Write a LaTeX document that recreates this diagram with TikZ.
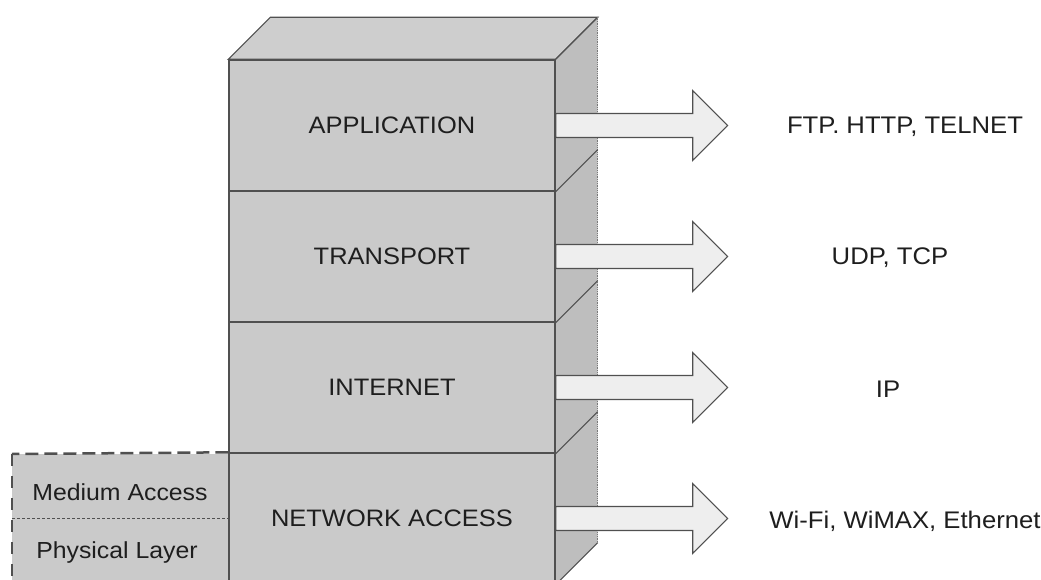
\documentclass[tikz,border=0pt]{standalone}
\usepackage{fontspec}
\setmainfont{Liberation Sans}[FakeStretch=1.07]
\usetikzlibrary{calc}
\definecolor{frontgray}{RGB}{202,202,202}
\definecolor{topgray}{RGB}{206,206,206}
\definecolor{sidegray}{RGB}{190,190,190}
\definecolor{arrowfill}{RGB}{238,238,238}
\definecolor{edgegray}{RGB}{80,80,80}
\definecolor{lightedge}{RGB}{120,120,120}
\definecolor{textgray}{RGB}{30,30,30}
\begin{document}
\begin{tikzpicture}[x=1pt,y=-1pt,
  layer/.style={draw=edgegray, line width=1.4pt, fill=frontgray,
    minimum width=326pt, minimum height=131pt, inner sep=0pt,
    text=textgray, font=\fontsize{23.8}{28}\selectfont},
  face/.style={draw=edgegray, line width=1.1pt},
  lbl/.style={font=\fontsize{24}{28}\selectfont, inner sep=0pt, text=textgray},
  sublbl/.style={font=\fontsize{23.2}{27}\selectfont, inner sep=0pt, anchor=base, text=textgray},
  bigarrow/.style={draw=edgegray, line width=1.1pt, fill=arrowfill},
  thickdash/.style={draw=edgegray, line width=2.5pt, dash pattern=on 13pt off 6pt},
  sidedash/.style={draw=edgegray, line width=2pt, dash pattern=on 12pt off 10pt},
  thindash/.style={draw=edgegray, line width=0.9pt, dash pattern=on 3pt off 2pt}]
\useasboundingbox (0,0) rectangle (1041,580);
\clip (0,0) rectangle (1041,580);
\fill[white] (0,0) rectangle (1041,580);

% front faces (layers)
\node[layer] (app) at (392,125.5) {APPLICATION};
\node[layer] (tra) at (392,256.5) {TRANSPORT};
\node[layer] (int) at (392,387.5) {INTERNET};
\node[layer] (net) at (392,518.5) {NETWORK ACCESS};

% top face
\draw[face, fill=topgray] (app.north west) -- ++(42,-42)
  -- ($(app.north east)+(42,-42)$) -- (app.north east) -- cycle;
% side face
\fill[sidegray] (app.north east) -- ++(42,-42)
  -- ($(net.south east)+(42,-42)$) -- (net.south east) -- cycle;
\draw[face] (app.north east) -- ++(42,-42);
\draw[lightedge, line width=0.8pt, densely dotted] ($(app.north east)+(42,-42)$) -- ($(net.south east)+(42,-42)$);
\draw[face] (app.south east) -- ++(42,-42);
\draw[face] (tra.south east) -- ++(42,-42);
\draw[face] (int.south east) -- ++(42,-42);
\draw[face] (net.south east) -- ++(42,-42);
\draw[edgegray, line width=1.4pt] (app.north east) -- (net.south east);

% arrows
\foreach \n in {app,tra,int,net}{
  \draw[bigarrow] (\n.east) ++(0,-12) -- ++(137,0) -- ++(0,-23) -- ++(35,35)
    -- ++(-35,35) -- ++(0,-23) -- ++(-137,0) -- cycle;
}

% protocol labels
\node[lbl] (l1) at (905,127) {FTP. HTTP, TELNET};
\node[lbl] (l2) at (890,258) {UDP, TCP};
\node[lbl] (l3) at (888,389) {IP};
\node[lbl] (l4) at (905,521) {Wi-Fi, WiMAX, Ethernet};

% left sub-layer box
\coordinate (lb) at (12,454);
\fill[frontgray] (lb) rectangle (net.south west);
\node[sublbl] (med) at (120,500) {Medium Access};
\node[sublbl] (phy) at (117,558) {Physical Layer};
\draw[thindash] (lb |- net.west) -- (net.west);
\draw[thickdash] (net.north west) -- (lb);
\draw[sidedash] (lb) -- (lb |- net.south);
\draw[edgegray, line width=1.4pt] (net.north west) -- (net.south west);
\end{tikzpicture}
\end{document}
